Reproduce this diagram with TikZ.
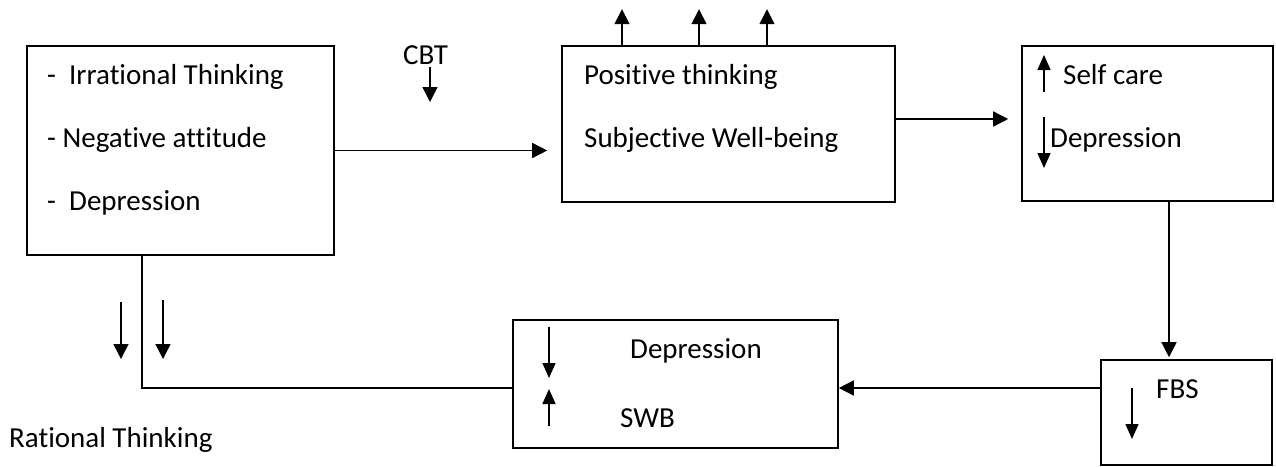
\documentclass[tikz,border=0pt]{standalone}
\usepackage{fontspec}
\setmainfont[Ligatures=NoCommon]{Carlito}
\usetikzlibrary{arrows.meta}
\begin{document}
\begin{tikzpicture}[x=1pt,y=-1pt,
  box/.style={draw,line width=1.6pt,rectangle,inner sep=0pt},
  lbl/.style={anchor=base west,inner sep=0pt,font=\fontsize{29}{35}\selectfont},
  arr/.style={line width=1.5pt,-{Triangle[length=15pt,width=15pt]}},
  mark arrow/.style={line width=1.5pt,-{Triangle[length=15pt,width=13pt]}},
  link/.style={line width=1.5pt}]
\useasboundingbox (0,0) rectangle (1276,466);
\fill[white] (0,0) rectangle (1276,466);

% boxes
\node[box,minimum width=307pt,minimum height=209pt] (cause) at (180.5,150.5) {};
\node[box,minimum width=333pt,minimum height=156pt] (positive) at (728.5,124) {};
\node[box,minimum width=251pt,minimum height=155pt] (selfcare) at (1147.5,123.5) {};
\node[box,minimum width=325pt,minimum height=128pt] (outcome) at (675.5,384) {};
\node[box,minimum width=171pt,minimum height=105pt] (fbs) at (1186.5,412.5) {};

% texts
\node[lbl] (t1) at (47,84) {-\ \ Irrational Thinking};
\node[lbl] (t2) at (47,147) {- Negative attitude};
\node[lbl] (t3) at (47,210) {-\ \ Depression};
\node[lbl] (cbt) at (403,64) {CBT};
\node[lbl] (t4) at (584,84) {Positive thinking};
\node[lbl] (t5) at (584,147) {Subjective Well-being};
\node[lbl] (t6) at (1063,84) {Self care};
\node[lbl] (t7) at (1050,147) {Depression};
\node[lbl] (t8) at (630,358) {Depression};
\node[lbl] (t9) at (620,427) {SWB};
\node[lbl] (t10) at (1156,398) {FBS};
\node[lbl] (rational) at (9,447) {Rational Thinking};

% connectors
\draw[arr] (cause.east) -- ([xshift=-14pt]cause.east -| positive.west);
\draw[arr] ([xshift=-2pt,yshift=5pt]positive.east) -- ([xshift=-13pt,yshift=5pt]positive.east -| selfcare.west);
\draw[arr] ([xshift=21.5pt]selfcare.south) -- ([xshift=21.5pt,yshift=2pt]selfcare.south |- fbs.north);
\draw[arr] ([yshift=24.5pt]fbs.west) -- ([yshift=24.5pt]fbs.west -| outcome.east);
\draw[link] ([yshift=-4pt]outcome.west) -| ([xshift=-38.5pt]cause.south);

% rising outputs above the positive box
\foreach \dx in {-106.5,-29.5,38.5}
  \draw[arr] ([xshift=\dx pt]positive.north) -- ++(0,-36);

% CBT arrow
\draw[arr] ([xshift=27pt]cbt.base west) ++(0,3) -- ++(0,35);

% up / down markers
\draw[mark arrow] (1044,92) -- (1044,55);
\draw[mark arrow] (1044,117) -- (1044,168);
\draw[mark arrow] (549,327) -- (549,378);
\draw[mark arrow] (549,426) -- (549,389);
\draw[mark arrow] (1132,388) -- (1132,439);
\draw[arr] (121,302) -- (121,359);
\draw[arr] (163,300) -- (163,359);
\end{tikzpicture}
\end{document}
